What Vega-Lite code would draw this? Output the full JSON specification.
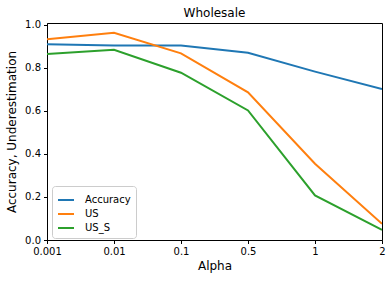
{
  "$schema": "https://vega.github.io/schema/vega-lite/v6.json",
  "autosize": "none",
  "width": 335,
  "height": 217,
  "padding": {"left": 47, "top": 23, "right": 10, "bottom": 41},
  "background": "white",
  "config": {
    "font": "DejaVu Sans",
    "view": {"stroke": "black", "strokeWidth": 1},
    "axis": {"grid": false, "domainColor": "black", "tickColor": "black", "labelColor": "black", "titleColor": "black", "labelFontSize": 10, "titleFontSize": 12, "titleFontWeight": "normal", "tickSize": 3.5}
  },
  "title": {"text": "Wholesale", "fontSize": 12, "fontWeight": "normal", "offset": 0, "color": "black"},
  "data": {
    "values": [
      {"alpha": "0.001", "series": "Accuracy", "value": 0.909},
      {"alpha": "0.01", "series": "Accuracy", "value": 0.903},
      {"alpha": "0.1", "series": "Accuracy", "value": 0.904},
      {"alpha": "0.5", "series": "Accuracy", "value": 0.870},
      {"alpha": "1", "series": "Accuracy", "value": 0.782},
      {"alpha": "2", "series": "Accuracy", "value": 0.701},
      {"alpha": "0.001", "series": "US", "value": 0.933},
      {"alpha": "0.01", "series": "US", "value": 0.963},
      {"alpha": "0.1", "series": "US", "value": 0.867},
      {"alpha": "0.5", "series": "US", "value": 0.686},
      {"alpha": "1", "series": "US", "value": 0.354},
      {"alpha": "2", "series": "US", "value": 0.075},
      {"alpha": "0.001", "series": "US_S", "value": 0.864},
      {"alpha": "0.01", "series": "US_S", "value": 0.884},
      {"alpha": "0.1", "series": "US_S", "value": 0.777},
      {"alpha": "0.5", "series": "US_S", "value": 0.602},
      {"alpha": "1", "series": "US_S", "value": 0.207},
      {"alpha": "2", "series": "US_S", "value": 0.047}
    ]
  },
  "mark": {"type": "line", "strokeWidth": 2, "clip": true},
  "encoding": {
    "x": {
      "field": "alpha", "type": "ordinal",
      "sort": ["0.001", "0.01", "0.1", "0.5", "1", "2"],
      "scale": {"type": "point", "padding": 0},
      "axis": {"title": "Alpha", "labelAngle": 0, "titlePadding": 4, "labelPadding": 3, "labelOverlap": false}
    },
    "y": {
      "field": "value", "type": "quantitative",
      "scale": {"domain": [0, 1.008], "nice": false, "zero": true},
      "axis": {"title": "Accuracy, Underestimation", "values": [0, 0.2, 0.4, 0.6, 0.8, 1.0], "format": ".1f", "titlePadding": 6, "labelPadding": 3}
    },
    "color": {
      "field": "series", "type": "nominal",
      "scale": {"domain": ["Accuracy", "US", "US_S"], "range": ["#1f77b4", "#ff7f0e", "#2ca02c"]},
      "legend": {
        "title": null, "orient": "none", "legendX": 5, "legendY": 163,
        "symbolType": "stroke", "symbolStrokeWidth": 2, "symbolSize": 256,
        "labelFontSize": 10, "labelColor": "black", "rowPadding": 0, "labelOffset": 10,
        "fillColor": "white", "strokeColor": "#cccccc", "cornerRadius": 3, "padding": 5
      }
    }
  }
}
